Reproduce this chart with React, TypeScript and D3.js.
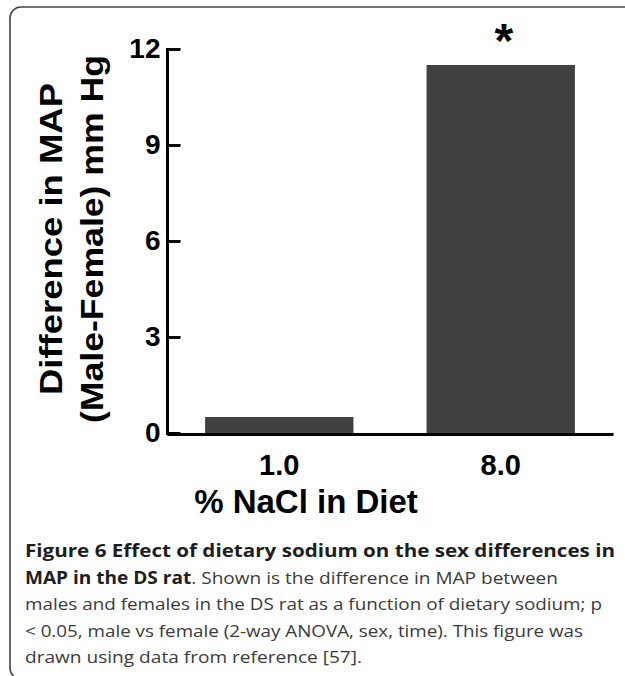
import React, { useRef, useEffect } from "react";
import * as d3 from "d3";

// values
const categories = ["1.0", "8.0"];
const diffValues = [0.5, 11.5];
const yTicks = [0, 3, 6, 9, 12];
const yLabelLines = ["Difference in MAP", "(Male-Female) mm Hg"];
const xLabel = "% NaCl in Diet";
const sigMarks = ["", "*"];

const captionLines = [
  [{ t: "Figure 6 Effect of dietary sodium on the sex differences in", b: true }],
  [
    { t: "MAP in the DS rat", b: true },
    { t: ". Shown is the difference in MAP between", b: false },
  ],
  [{ t: "males and females in the DS rat as a function of dietary sodium; p", b: false }],
  [{ t: "< 0.05, male vs female (2-way ANOVA, sex, time). This figure was", b: false }],
  [{ t: "drawn using data from reference [57].", b: false }],
];
const captionWidths = [590, 533, 577, 558, 337];

const W = 625;
const H = 676;
const FONT = "'Liberation Sans', Arial, Helvetica, sans-serif";

const App = () => {
  const ref = useRef<SVGSVGElement | null>(null);

  useEffect(() => {
    const svg = d3.select(ref.current);
    svg.selectAll("*").remove();

    // rounded frame, cut by the right and bottom edges of the page
    svg
      .append("rect")
      .attr("x", 10)
      .attr("y", 7)
      .attr("width", 700)
      .attr("height", 672)
      .attr("rx", 11)
      .attr("fill", "none")
      .attr("stroke", "#444")
      .attr("stroke-width", 1.6);

    const x = d3
      .scaleBand<string>()
      .domain(categories)
      .range([167, 613])
      .paddingInner(0.33)
      .paddingOuter(0.172);

    const y = d3.scaleLinear().domain([0, 12]).range([433, 49]);

    const g = svg.append("g").style("font-family", FONT);

    // bars
    g.selectAll("rect.bar")
      .data(diffValues)
      .enter()
      .append("rect")
      .attr("class", "bar")
      .attr("x", (_, i) => x(categories[i]) as number)
      .attr("y", (d) => y(d))
      .attr("width", x.bandwidth())
      .attr("height", (d) => y(0) - y(d))
      .attr("fill", "#414141");

    // significance star
    g.selectAll("text.sig")
      .data(diffValues)
      .enter()
      .append("text")
      .attr("class", "sig")
      .attr("x", (_, i) => (x(categories[i]) as number) + x.bandwidth() / 2 + 3)
      .attr("y", (d) => y(d) - 8)
      .attr("text-anchor", "middle")
      .style("font-size", "48px")
      .style("font-weight", "bold")
      .text((_, i) => sigMarks[i]);

    // y axis, ticks pointing inward
    const yAxis = g
      .append("g")
      .attr("transform", "translate(167.5,0)")
      .call(d3.axisLeft(y).tickValues(yTicks).tickSize(-13).tickSizeOuter(0).tickPadding(7));
    yAxis.select(".domain").attr("stroke-width", 3).attr("d", "M0,48V435");
    yAxis.selectAll(".tick line").attr("stroke-width", 3);
    yAxis
      .selectAll(".tick text")
      .style("font-family", FONT)
      .style("font-size", "28px")
      .style("font-weight", "bold")
      .attr("fill", "#000");

    // x axis, line only
    const xAxis = g
      .append("g")
      .attr("transform", "translate(0,434)")
      .call(d3.axisBottom(x).tickSize(0).tickSizeOuter(0).tickPadding(20.5));
    xAxis.select(".domain").attr("stroke-width", 3);
    xAxis
      .selectAll(".tick text")
      .style("font-family", FONT)
      .style("font-size", "29px")
      .style("font-weight", "bold")
      .attr("fill", "#000");

    // axis titles
    g.append("text")
      .attr("x", 306)
      .attr("y", 513)
      .attr("text-anchor", "middle")
      .style("font-size", "33px")
      .style("font-weight", "bold")
      .text(xLabel);

    const yl = [
      { bx: 62, len: 312 },
      { bx: 103, len: 368 },
    ];
    yLabelLines.forEach((line, i) => {
      g.append("text")
        .attr("transform", `translate(${yl[i].bx},239) rotate(-90)`)
        .attr("text-anchor", "middle")
        .attr("textLength", yl[i].len)
        .attr("lengthAdjust", "spacingAndGlyphs")
        .style("font-size", "31px")
        .style("font-weight", "bold")
        .text(line);
    });

    // caption
    const cap = svg.append("g").style("font-family", "'Open Sans', 'Noto Sans', sans-serif");
    captionLines.forEach((parts, i) => {
      const t = cap
        .append("text")
        .attr("x", 25)
        .attr("y", 557 + i * 26.5)
        .attr("textLength", captionWidths[i])
        .attr("lengthAdjust", "spacingAndGlyphs")
        .style("font-size", "17px");
      parts.forEach((p) => {
        t.append("tspan")
          .style("font-weight", p.b ? "bold" : "normal")
          .attr("fill", p.b ? "#1e1e1e" : "#3a3a3a")
          .text(p.t);
      });
    });
  }, []);

  return (
    <svg
      ref={ref}
      width={W}
      height={H}
      style={{ position: "absolute", left: 0, top: 0, background: "#fff" }}
    />
  );
};

export default App;
